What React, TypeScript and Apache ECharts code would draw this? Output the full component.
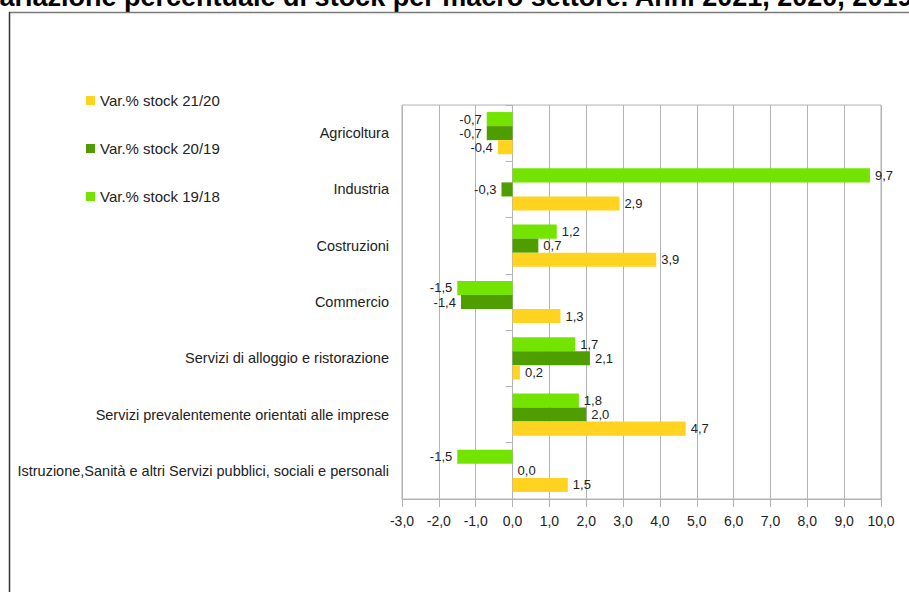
import React, { useEffect, useRef } from "react";
import * as echarts from "echarts";

const TITLE = "Variazione percentuale di stock per macro settore. Anni 2021, 2020, 2019";
const categories = [
  "Agricoltura",
  "Industria",
  "Costruzioni",
  "Commercio",
  "Servizi di alloggio e ristorazione",
  "Servizi prevalentemente orientati alle imprese",
  "Istruzione,Sanità e altri Servizi pubblici, sociali e personali",
];
const seriesNames = ["Var.% stock 19/18", "Var.% stock 20/19", "Var.% stock 21/20"];
const legendOrder = ["Var.% stock 21/20", "Var.% stock 20/19", "Var.% stock 19/18"];
const var1918 = [-0.7, 9.7, 1.2, -1.5, 1.7, 1.8, -1.5];
const var2019 = [-0.7, -0.3, 0.7, -1.4, 2.1, 2.0, 0.0];
const var2120 = [-0.4, 2.9, 3.9, 1.3, 0.2, 4.7, 1.5];
const seriesValues = [var1918, var2019, var2120];
const seriesColors = ["#72e400", "#4f9e00", "#ffd320"];
const xMin = -3;
const xMax = 10;
const xInterval = 1;

const fmt = (v: number) => Number(v).toFixed(1).replace(".", ",");

export default function App() {
  const ref = useRef<HTMLDivElement>(null);
  useEffect(() => {
    if (!ref.current) return;
    const chart = echarts.init(ref.current, null, { renderer: "svg" });
    const font = "'Liberation Sans', Arial, sans-serif";
    chart.setOption({
      animation: false,
      backgroundColor: "#ffffff",
      textStyle: { fontFamily: font },
      graphic: [
        {
          type: "text",
          x: -17,
          y: -3,
          style: {
            text: TITLE,
            font: `bold 27px ${font}`,
            fill: "#000",
            verticalAlign: "middle",
          },
        },
        {
          type: "line",
          shape: { x1: 9, y1: 12.5, x2: 909, y2: 12.5 },
          style: { stroke: "#7a7a7a", lineWidth: 1.5 },
        },
        {
          type: "line",
          shape: { x1: 9.5, y1: 12, x2: 9.5, y2: 592 },
          style: { stroke: "#333", lineWidth: 1.5 },
        },
      ],
      legend: {
        orient: "vertical",
        left: 81,
        top: 88,
        itemWidth: 9,
        itemHeight: 9,
        itemGap: 33,
        icon: "rect",
        data: legendOrder,
        textStyle: { fontSize: 15, color: "#222", fontFamily: font },
      },
      grid: {
        left: 402,
        right: 28,
        top: 105,
        bottom: 93,
        show: true,
        borderColor: "#b3b3b3",
        borderWidth: 1,
      },
      xAxis: {
        type: "value",
        min: xMin,
        max: xMax,
        interval: xInterval,
        axisLine: { show: true, lineStyle: { color: "#b3b3b3" } },
        axisTick: { show: true, length: 8, lineStyle: { color: "#b3b3b3" } },
        splitLine: { show: true, lineStyle: { color: "#b3b3b3" } },
        axisLabel: {
          formatter: (v: number) => fmt(v),
          fontSize: 14,
          color: "#222",
          margin: 15,
          fontFamily: font,
        },
      },
      yAxis: {
        type: "category",
        inverse: true,
        data: categories,
        axisLine: { show: false },
        axisTick: { show: true, length: 7, lineStyle: { color: "#b3b3b3" } },
        axisLabel: { fontSize: 14.5, color: "#222", margin: 13, fontFamily: font },
      },
      series: seriesNames.map((name, i) => ({
        name,
        type: "bar",
        barGap: "0%",
        barCategoryGap: "25%",
        itemStyle: { color: seriesColors[i] },
        label: {
          show: true,
          fontSize: 13,
          color: "#222",
          distance: 5,
          fontFamily: font,
          formatter: (p: any) => fmt(p.value),
        },
        data: seriesValues[i].map((v) => ({
          value: v,
          label: { position: v < 0 ? "left" : "right" },
        })),
      })),
    });
    return () => chart.dispose();
  }, []);
  return (
    <div
      ref={ref}
      style={{ position: "fixed", left: 0, top: 0, width: 909, height: 592 }}
    />
  );
}
